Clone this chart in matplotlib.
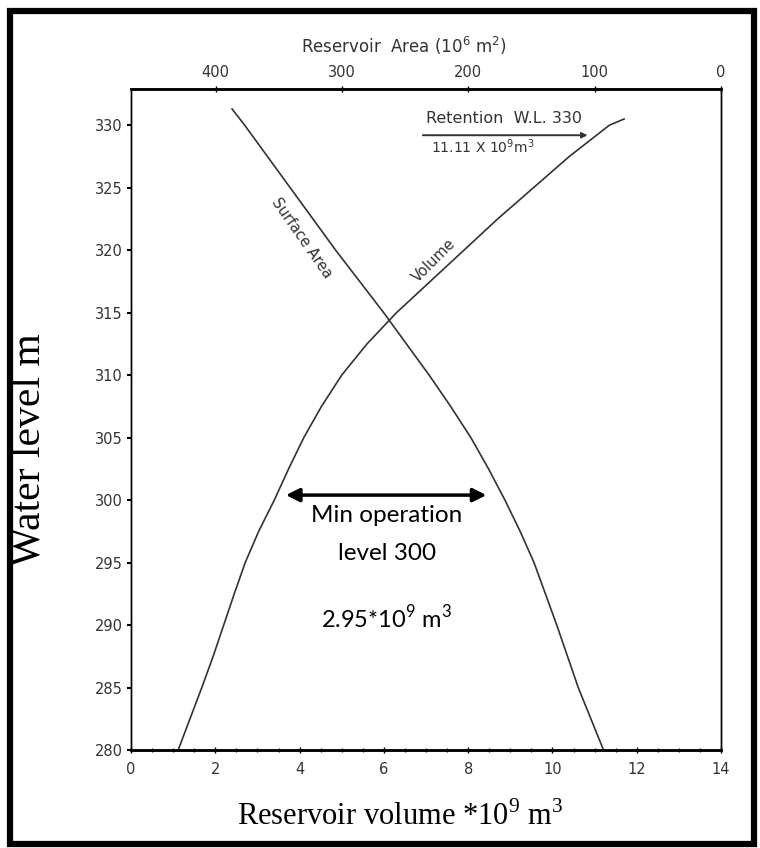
import matplotlib.pyplot as plt
from matplotlib.patches import Rectangle
from matplotlib.ticker import MultipleLocator

# =========================
# DATA
# =========================
vol_level = [280, 282.5, 285, 287.5, 290, 292.5, 295, 297.5, 300, 302.5, 305,
             307.5, 310, 312.5, 315, 317.5, 320, 322.5, 325, 327.5, 330, 330.5]
volume = [1.12, 1.4, 1.68, 1.95, 2.2, 2.45, 2.71, 3.03, 3.40, 3.74, 4.10,
          4.52, 5.0, 5.6, 6.3, 7.1, 7.9, 8.7, 9.55, 10.4, 11.35, 11.7]

area_level = [280, 282.5, 285, 287.5, 290, 292.5, 295, 297.5, 300, 302.5, 305,
              307.5, 310, 312.5, 315, 317.5, 320, 322.5, 325, 327.5, 330, 331.3]
area = [93, 103, 113, 121.5, 130, 139, 148, 159, 171, 184, 198,
        214, 231, 249, 267, 286, 305, 323, 341, 359, 377, 387]

vol_ticks = [0, 2, 4, 6, 8, 10, 12, 14]
area_ticks = [400, 300, 200, 100, 0]
level_ticks = [280, 285, 290, 295, 300, 305, 310, 315, 320, 325, 330]

# =========================
# FIGURE
# =========================
W, H = 760, 848
fig = plt.figure(figsize=(W / 100, H / 100), dpi=100, facecolor="white")

# axes box in pixels: left 131, right 721, top 89, bottom 750
ax = fig.add_axes([131 / W, 1 - 750 / H, 590 / W, 661 / H])
ax.set_xlim(0, 14)
ax.set_ylim(280, 332.9)

ax2 = ax.twiny()
ax2.set_xlim(467, 0)

line_col = "#333333"
tick_font = dict(family="DejaVu Sans", size=10.5, color="#333333")

ax.plot(volume, vol_level, color=line_col, lw=1.2)
ax2.plot(area, area_level, color=line_col, lw=1.2)

# spines
for sp in ["top", "bottom"]:
    ax.spines[sp].set_linewidth(1.8)
    ax2.spines[sp].set_linewidth(1.8)
for sp in ["left", "right"]:
    ax.spines[sp].set_linewidth(1.0)
    ax2.spines[sp].set_linewidth(1.0)

# bottom axis
ax.set_xticks(vol_ticks)
ax.set_xticklabels([str(v) for v in vol_ticks], **tick_font)
ax.xaxis.set_minor_locator(MultipleLocator(0.5))
ax.tick_params(axis="x", which="major", direction="inout", length=5, width=1.0, pad=6)
ax.tick_params(axis="x", which="minor", direction="inout", length=3, width=0.8)

# left axis
ax.set_yticks(level_ticks)
ax.set_yticklabels([str(v) for v in level_ticks], **tick_font)
ax.tick_params(axis="y", direction="out", length=3, width=1.5, pad=3)

# top axis
ax2.set_xticks(area_ticks)
ax2.set_xticklabels([str(v) for v in area_ticks], **tick_font)
ax2.xaxis.set_minor_locator(MultipleLocator(25))
ax2.tick_params(axis="x", which="major", direction="inout", length=5, width=1.0, pad=4)
ax2.tick_params(axis="x", which="minor", direction="inout", length=2, width=0.6)

# =========================
# LABELS
# =========================
fig.text(404 / W, 1 - 46 / H, r"Reservoir  Area (10$^{6}$ m$^{2}$)",
         ha="center", va="center", fontsize=12, family="DejaVu Sans", color="#333333")

fig.text(400 / W, 1 - 817 / H,
         r"Reservoir volume *10$^{\mathregular{9}}$ m$^{\mathregular{3}}$",
         ha="center", va="center", fontsize=22, family="Liberation Serif")

fig.text(30 / W, 1 - 450 / H, "Water level m", rotation=90,
         ha="center", va="center", fontsize=30, family="Liberation Serif")

# curve labels
ax.text(4.06, 321.0, "Surface Area", rotation=-55, ha="center", va="center",
        fontsize=10.5, family="DejaVu Sans", color="#333333")
ax.text(7.19, 319.2, "Volume", rotation=45, ha="center", va="center",
        fontsize=10.5, family="DejaVu Sans", color="#333333")

# retention annotation
ax.annotate("", xy=(10.9, 329.2), xytext=(6.86, 329.2),
            arrowprops=dict(arrowstyle="-|>", lw=1.4, color="#333333", mutation_scale=8))
ax.text(8.85, 330.55, "Retention  W.L. 330", ha="center", va="center",
        fontsize=11.5, family="DejaVu Sans", color="#333333")
ax.text(8.35, 328.3, r"11.11 X 10$^{9}$m$^{3}$", ha="center", va="center",
        fontsize=10, family="DejaVu Sans", color="#333333")

# minimum operation level
ax.annotate("", xy=(8.5, 300.4), xytext=(3.61, 300.4),
            arrowprops=dict(arrowstyle="<|-|>", lw=2.5, color="black", mutation_scale=20))
ax.text(6.07, 298.8, "Min operation", ha="center", va="center", fontsize=17.5, family="Lato")
ax.text(6.07, 295.7, "level 300", ha="center", va="center", fontsize=17.5, family="Lato")
ax.text(6.07, 290.6, r"2.95*10$^{\mathregular{9}}$ m$^{\mathregular{3}}$",
        ha="center", va="center", fontsize=17, family="Lato")

# outer frame
fig.patches.append(Rectangle((10 / W, 1 - 844 / H), 744 / W, 833 / H,
                             transform=fig.transFigure, fill=False,
                             edgecolor="black", linewidth=4.5))

fig.savefig("out.png", dpi=100)
